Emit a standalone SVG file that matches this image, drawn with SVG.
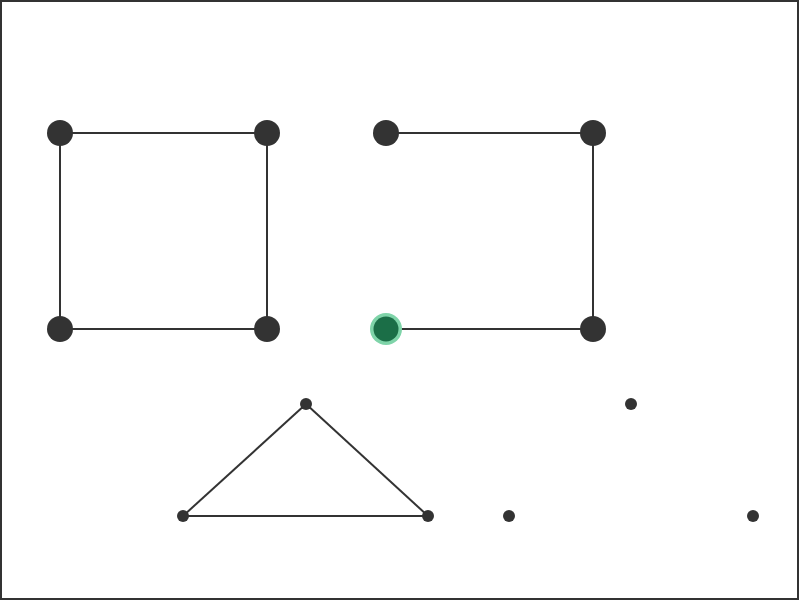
<svg xmlns="http://www.w3.org/2000/svg" width="799" height="600" viewBox="0 0 799 600">
<style>
.e{stroke:#333;stroke-width:2;fill:none}
.n{fill:#333}
</style>
<rect x="1" y="1" width="797" height="598" fill="#fff" stroke="#333" stroke-width="2"/>
<g id="edges">
<line class="e" x1="60" y1="133" x2="267" y2="133"/>
<line class="e" x1="60" y1="133" x2="60" y2="329"/>
<line class="e" x1="267" y1="133" x2="267" y2="329"/>
<line class="e" x1="60" y1="329" x2="267" y2="329"/>
<line class="e" x1="386" y1="133" x2="593" y2="133"/>
<line class="e" x1="593" y1="133" x2="593" y2="329"/>
<line class="e" x1="386" y1="329" x2="593" y2="329"/>
<line class="e" x1="306" y1="404" x2="183" y2="516"/>
<line class="e" x1="306" y1="404" x2="428" y2="516"/>
<line class="e" x1="183" y1="516" x2="428" y2="516"/>
</g>
<g id="n1"><circle class="n" cx="60" cy="133" r="13"/></g>
<g id="n2"><circle class="n" cx="267" cy="133" r="13"/></g>
<g id="n3"><circle class="n" cx="60" cy="329" r="13"/></g>
<g id="n4"><circle class="n" cx="267" cy="329" r="13"/></g>
<g id="n5"><circle class="n" cx="386" cy="133" r="13"/></g>
<g id="n6"><circle class="n" cx="593" cy="133" r="13"/></g>
<g id="n7"><circle cx="386" cy="329" r="16" fill="#7fd4a9"/><circle cx="386" cy="329" r="12.5" fill="#1b6e47"/></g>
<g id="n8"><circle class="n" cx="593" cy="329" r="13"/></g>
<g id="n9"><circle class="n" cx="306" cy="404" r="6"/></g>
<g id="n10"><circle class="n" cx="183" cy="516" r="6"/></g>
<g id="n11"><circle class="n" cx="428" cy="516" r="6"/></g>
<g id="n12"><circle class="n" cx="509" cy="516" r="6"/></g>
<g id="n13"><circle class="n" cx="631" cy="404" r="6"/></g>
<g id="n14"><circle class="n" cx="753" cy="516" r="6"/></g>
</svg>
